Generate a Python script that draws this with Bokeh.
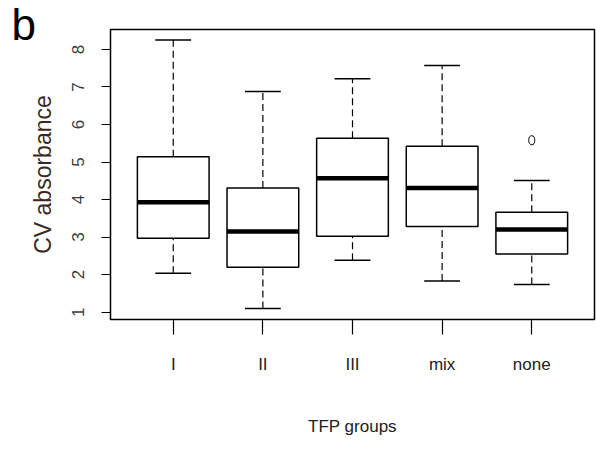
import numpy as np
from bokeh.plotting import figure
from bokeh.models import Range1d, FixedTicker
from bokeh.embed import file_html
from bokeh.resources import INLINE

# ---- data ----
groups = ["I", "II", "III", "mix", "none"]
whisker_low = [2.04, 1.10, 2.38, 1.83, 1.74]
q1 = [2.97, 2.20, 3.02, 3.28, 2.55]
median = [3.93, 3.15, 4.57, 4.31, 3.20]
q3 = [5.14, 4.31, 5.63, 5.42, 3.66]
whisker_high = [8.25, 6.88, 7.22, 7.57, 4.51]
outlier_group = ["none"]
outlier_value = [5.58]
y_ticks = [1, 2, 3, 4, 5, 6, 7, 8]

pos = {g: i + 1 for i, g in enumerate(groups)}
x = np.array([pos[g] for g in groups], dtype=float)
box_w = 0.8
cap_w = 0.4

p = figure(width=596, height=450, output_backend="svg", toolbar_location=None,
           x_range=Range1d(0.3, 5.7), y_range=Range1d(0.805, 8.53),
           min_border_left=110, min_border_right=2, min_border_top=29,
           min_border_bottom=131)
p.background_fill_color = "white"
p.border_fill_color = "white"
p.outline_line_color = "black"
p.outline_line_width = 1.5
p.xgrid.visible = False
p.ygrid.visible = False

# panel letter as the title
p.title.text = "b"
p.title.text_font = "Liberation Sans"
p.title.text_font_size = "44px"
p.title.text_font_style = "normal"
p.title.text_color = "black"
p.title.align = "left"
p.title.vertical_align = "bottom"
p.title.offset = -99
p.title.standoff = -38

# whiskers (dashed)
p.segment(x, q3, x, whisker_high, line_color="black", line_width=1.2, line_dash="7 4")
p.segment(x, whisker_low, x, q1, line_color="black", line_width=1.2, line_dash="7 4")
# caps
p.segment(x - cap_w / 2, whisker_high, x + cap_w / 2, whisker_high, line_color="black", line_width=1.5)
p.segment(x - cap_w / 2, whisker_low, x + cap_w / 2, whisker_low, line_color="black", line_width=1.5)
# boxes
p.vbar(x=x, width=box_w, bottom=q1, top=q3, fill_color="white", line_color="black", line_width=1.5)
# medians
p.segment(x - box_w / 2, median, x + box_w / 2, median, line_color="black", line_width=4.5)
# outliers
ox = [pos[g] for g in outlier_group]
p.ellipse(x=ox, y=outlier_value, width=6, height=9, width_units="screen", height_units="screen",
          fill_color=None, line_color="black", line_width=1)

# axes
p.xaxis.ticker = FixedTicker(ticks=list(x))
p.xaxis.major_label_overrides = {float(v): g for v, g in zip(x, groups)}
p.xaxis.major_label_overrides.update({int(v): g for v, g in zip(x, groups)})
p.xaxis.axis_line_color = None
p.xaxis.major_tick_out = 15
p.xaxis.major_tick_in = 0
p.xaxis.minor_tick_line_color = None
p.xaxis.major_tick_line_color = "black"
p.xaxis.major_tick_line_width = 1.2
p.xaxis.major_label_standoff = 20
p.xaxis.major_label_text_font = "Liberation Sans"
p.xaxis.major_label_text_font_size = "17px"
p.xaxis.major_label_text_color = "#222222"
p.xaxis.axis_label = "TFP groups"
p.xaxis.axis_label_text_font = "Liberation Sans"
p.xaxis.axis_label_text_font_size = "17px"
p.xaxis.axis_label_text_font_style = "normal"
p.xaxis.axis_label_text_color = "#222222"
p.xaxis.axis_label_standoff = 40

p.yaxis.ticker = FixedTicker(ticks=y_ticks)
p.yaxis.axis_line_color = None
p.yaxis.major_tick_out = 9
p.yaxis.major_tick_in = 0
p.yaxis.minor_tick_line_color = None
p.yaxis.major_tick_line_color = "black"
p.yaxis.major_tick_line_width = 1.2
p.yaxis.major_label_orientation = "vertical"
p.yaxis.major_label_standoff = 17
p.yaxis.major_label_text_font = "Liberation Sans"
p.yaxis.major_label_text_font_size = "17px"
p.yaxis.major_label_text_color = "#3c3c3c"
p.yaxis.axis_label = "CV absorbance"
p.yaxis.axis_label_text_font = "Liberation Sans"
p.yaxis.axis_label_text_font_size = "23px"
p.yaxis.axis_label_text_font_style = "normal"
p.yaxis.axis_label_text_color = "#3a2a25"
p.yaxis.axis_label_standoff = 14

open("out.html", "w").write(file_html(p, INLINE))
